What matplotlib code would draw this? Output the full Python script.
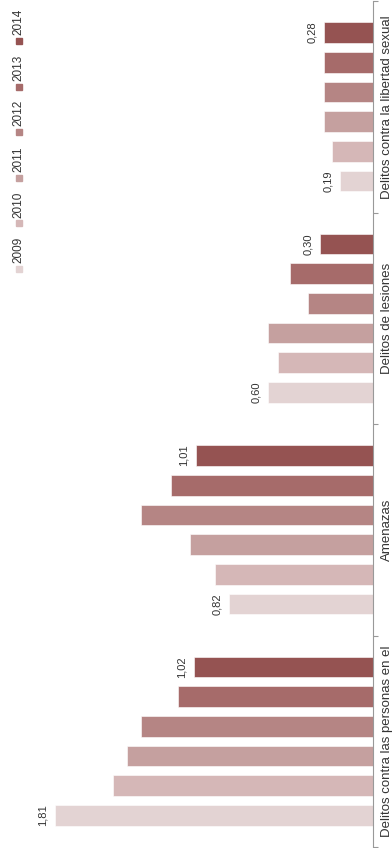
import matplotlib
matplotlib.use("Agg")
import matplotlib.pyplot as plt
import numpy as np

plt.rcParams['font.family'] = ['Liberation Sans', 'DejaVu Sans']

categories = ["Delitos contra las personas en el", "Amenazas",
              "Delitos de lesiones", "Delitos contra la libertad sexual"]
years = ["2009", "2010", "2011", "2012", "2013", "2014"]
values = {
    "2009": [1.81, 0.82, 0.60, 0.19],
    "2010": [1.48, 0.90, 0.54, 0.235],
    "2011": [1.40, 1.04, 0.60, 0.28],
    "2012": [1.32, 1.32, 0.37, 0.28],
    "2013": [1.11, 1.15, 0.47, 0.28],
    "2014": [1.02, 1.01, 0.30, 0.28],
}
labelled = ["2009", "2014"]
colors = ["#e3d3d3", "#d5b7b7", "#c5a09f", "#b58584", "#a66b6a", "#955352"]

W, H = 392, 848
fig = plt.figure(figsize=(W / 100, H / 100), dpi=100)
ax = fig.add_axes([0, 1 / H, 373 / W, 846 / H])

pitch = 0.1404
height = 0.098
y = np.arange(len(categories))
for j, yr in enumerate(years):
    pos = y + (j - 2.5) * pitch
    ax.barh(pos, values[yr], height=height, color=colors[j],
            edgecolor="white", linewidth=0.4)
    if yr in labelled:
        for p, v in zip(pos, values[yr]):
            ax.annotate(f"{v:.2f}".replace(".", ","), (v, p),
                        xytext=(-5, 0), textcoords="offset points",
                        rotation=90, ha="right", va="center",
                        fontsize=8, color="#333333")

ax.set_xlim(373 / 175.7, 0)
ax.set_ylim(-0.5, len(categories) - 0.5)

for s in ["top", "left", "bottom"]:
    ax.spines[s].set_visible(False)
ax.spines["right"].set_color("#999999")
ax.set_xticks([])
ax.yaxis.tick_right()
ax.set_yticks(np.arange(len(categories) + 1) - 0.5)
ax.set_yticklabels([])
ax.set_yticks(y, minor=True)
ax.set_yticklabels(categories, minor=True, rotation=90, va="center",
                   fontsize=9.5, color="#333333")
ax.tick_params(axis="y", which="major", length=3.5, color="#999999",
               direction="out")
ax.tick_params(axis="y", which="minor", length=0, pad=6)

# legend, rotated like the rest of the chart
for k, yr in enumerate(reversed(years)):
    c = colors[len(years) - 1 - k]
    ty = 22 + 45.6 * k
    my = 41 + 45.6 * k
    fig.text(18.5 / W, 1 - ty / H, yr, rotation=90, ha="center", va="center",
             fontsize=8.5, color="#333333")
    fig.patches.append(plt.Rectangle(((19 - 3) / W, 1 - (my + 3) / H),
                                     6 / W, 6 / H, transform=fig.transFigure,
                                     color=c, figure=fig))

fig.savefig("out.png", dpi=100)
